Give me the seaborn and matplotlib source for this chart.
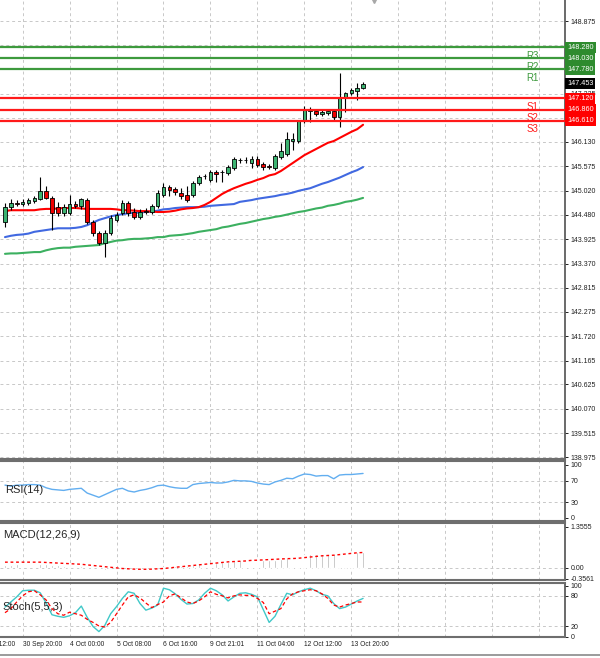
import numpy as np
import pandas as pd
import matplotlib
matplotlib.use("Agg")
import matplotlib.pyplot as plt
import matplotlib.transforms as mtransforms
from matplotlib.lines import Line2D
import seaborn as sns

sns.set_style("white")
plt.rcParams["font.family"] = ["Liberation Sans", "DejaVu Sans"]

# 4H candles
open_ = [144.31, 144.65, 144.74, 144.72, 144.74, 144.79, 144.83, 145.02, 144.86, 144.65,
         144.52, 144.52, 144.72, 144.68, 144.81, 144.31, 144.06, 143.84, 144.06, 144.36,
         144.52, 144.74, 144.54, 144.43, 144.56, 144.54, 144.68, 144.93, 145.11, 145.06,
         144.97, 144.93, 144.93, 145.20, 145.36, 145.27, 145.45, 145.45, 145.43, 145.54,
         145.72, 145.72, 145.65, 145.74, 145.63, 145.58, 145.54, 145.79, 145.86, 146.15,
         146.15, 146.61, 146.83, 146.83, 146.76, 146.79, 146.83, 146.70, 147.15, 147.24,
         147.29, 147.35]
close = [144.65, 144.74, 144.73, 144.77, 144.81, 144.86, 145.02, 144.86, 144.52, 144.52,
         144.65, 144.72, 144.68, 144.83, 144.31, 144.06, 143.84, 144.06, 144.40, 144.47,
         144.74, 144.52, 144.43, 144.54, 144.55, 144.68, 144.97, 145.11, 145.04, 144.99,
         144.90, 144.81, 145.20, 145.33, 145.35, 145.45, 145.41, 145.44, 145.56, 145.74,
         145.71, 145.71, 145.74, 145.61, 145.56, 145.55, 145.81, 145.92, 146.20, 146.20,
         146.61, 146.86, 146.88, 146.76, 146.81, 146.83, 146.70, 147.13, 147.24, 147.31,
         147.35, 147.45]
high = [144.74, 144.83, 144.81, 144.83, 144.86, 144.90, 145.33, 145.13, 144.90, 144.77,
        144.72, 144.93, 144.79, 144.86, 144.86, 144.36, 144.11, 144.13, 144.47, 144.54,
        144.81, 144.79, 144.63, 144.61, 144.63, 144.72, 145.04, 145.20, 145.15, 145.11,
        145.08, 145.13, 145.24, 145.38, 145.40, 145.49, 145.49, 145.49, 145.61, 145.79,
        145.77, 145.79, 145.81, 145.81, 145.68, 145.63, 145.86, 146.11, 146.36, 146.33,
        146.63, 146.95, 146.92, 146.88, 146.86, 146.86, 146.86, 147.70, 147.26, 147.35,
        147.47, 147.49]
low = [144.20, 144.59, 144.68, 144.68, 144.70, 144.74, 144.81, 144.83, 144.13, 144.45,
       144.45, 144.47, 144.63, 144.61, 144.27, 143.99, 143.79, 143.52, 144.02, 144.31,
       144.47, 144.45, 144.38, 144.38, 144.49, 144.49, 144.63, 144.88, 144.90, 144.93,
       144.84, 144.77, 144.88, 145.15, 145.29, 145.22, 145.22, 145.22, 145.38, 145.49,
       145.65, 145.65, 145.54, 145.56, 145.49, 145.52, 145.49, 145.74, 145.81, 145.95,
       146.11, 146.56, 146.58, 146.72, 146.72, 146.74, 146.63, 146.47, 146.81, 147.20,
       147.08, 147.33]

ma_fast = [144.56, 144.58, 144.58, 144.58, 144.58, 144.58, 144.60, 144.61, 144.61, 144.62,
           144.63, 144.63, 144.63, 144.62, 144.61, 144.61, 144.61, 144.61, 144.61, 144.60,
           144.58, 144.58, 144.57, 144.56, 144.56, 144.55, 144.54, 144.54, 144.55, 144.57,
           144.60, 144.62, 144.63, 144.65, 144.70, 144.77, 144.86, 144.95, 145.02, 145.08,
           145.13, 145.18, 145.22, 145.27, 145.31, 145.37, 145.40, 145.47, 145.56, 145.65,
           145.74, 145.83, 145.90, 145.97, 146.04, 146.11, 146.15, 146.22, 146.29, 146.36,
           146.42, 146.52]
ma_mid = [143.97, 144.00, 144.02, 144.03, 144.05, 144.09, 144.11, 144.13, 144.15, 144.17,
          144.17, 144.17, 144.18, 144.20, 144.24, 144.30, 144.36, 144.40, 144.44, 144.47,
          144.49, 144.51, 144.52, 144.53, 144.54, 144.55, 144.57, 144.60, 144.61, 144.63,
          144.64, 144.65, 144.65, 144.65, 144.66, 144.68, 144.69, 144.70, 144.71, 144.72,
          144.77, 144.79, 144.81, 144.84, 144.86, 144.88, 144.90, 144.93, 144.95, 144.98,
          145.02, 145.05, 145.08, 145.13, 145.18, 145.22, 145.27, 145.32, 145.38, 145.44,
          145.49, 145.56]
ma_slow = [143.59, 143.60, 143.60, 143.61, 143.62, 143.63, 143.63, 143.67, 143.70, 143.72,
           143.73, 143.73, 143.75, 143.76, 143.77, 143.78, 143.79, 143.83, 143.86, 143.89,
           143.90, 143.92, 143.93, 143.93, 143.94, 143.95, 143.97, 143.97, 144.00, 144.01,
           144.02, 144.04, 144.06, 144.09, 144.11, 144.13, 144.15, 144.19, 144.21, 144.24,
           144.27, 144.29, 144.32, 144.35, 144.38, 144.40, 144.43, 144.45, 144.48, 144.51,
           144.54, 144.56, 144.59, 144.62, 144.64, 144.68, 144.70, 144.73, 144.77, 144.79,
           144.82, 144.86]

rsi = [62, 60, 62, 62, 63, 63, 62, 57, 54, 53,
       52, 54, 55, 56, 47, 43, 39, 44, 49, 54,
       56, 51, 49, 52, 54, 57, 61, 62, 59, 57,
       56, 56, 63, 65, 66, 67, 66, 66, 68, 71,
       70, 70, 69, 66, 64, 63, 68, 71, 75, 74,
       79, 83, 82, 79, 80, 80, 74, 81, 82, 82,
       83, 84]

macd_hist = [0.11, 0.11, 0.12, 0.12, 0.12, 0.13, 0.13, 0.12, 0.10, 0.08,
             0.07, 0.07, 0.06, 0.06, 0.03, -0.01, -0.05, -0.06, -0.05, -0.04,
             -0.04, -0.05, -0.05, -0.05, -0.04, -0.03, 0.00, 0.03, 0.05, 0.06,
             0.06, 0.06, 0.09, 0.12, 0.14, 0.16, 0.17, 0.18, 0.20, 0.23,
             0.25, 0.26, 0.27, 0.26, 0.25, 0.25, 0.27, 0.30, 0.33, 0.36,
             0.40, 0.44, 0.45, 0.46, 0.46, 0.46, 0.45, 0.49, 0.51, 0.52,
             0.53, 0.54]
macd_signal = [0.19, 0.19, 0.19, 0.19, 0.19, 0.19, 0.19, 0.18, 0.17, 0.16,
               0.15, 0.14, 0.13, 0.12, 0.10, 0.08, 0.06, 0.04, 0.02, 0.00,
               -0.02, -0.03, -0.04, -0.045, -0.045, -0.04, -0.03, -0.02, 0.00, 0.02,
               0.04, 0.06, 0.08, 0.10, 0.12, 0.14, 0.16, 0.18, 0.20, 0.21,
               0.22, 0.23, 0.25, 0.255, 0.265, 0.275, 0.285, 0.295, 0.305, 0.31,
               0.32, 0.34, 0.36, 0.38, 0.40, 0.41, 0.42, 0.44, 0.46, 0.48,
               0.50, 0.51]

stoch_main = [58, 68, 78, 90, 91, 91, 86, 66, 43, 40,
              38, 41, 47, 60, 38, 20, 10, 22, 45, 59,
              75, 88, 85, 65, 52, 56, 62, 95, 92, 84,
              73, 64, 65, 72, 85, 95, 90, 82, 70, 78,
              85, 86, 83, 78, 53, 28, 40, 63, 85, 82,
              88, 92, 95, 90, 83, 80, 65, 55, 58, 64,
              70, 75]
stoch_signal = [47, 55, 68, 80, 88, 90, 82, 72, 55, 45,
                42, 48, 45, 42, 34, 28, 21, 19, 28, 45,
                62, 78, 82, 76, 66, 57, 63, 68, 80, 84,
                76, 68, 65, 70, 78, 88, 83, 80, 76, 80,
                82, 81, 81, 75, 67, 45, 50, 55, 74, 84,
                88, 90, 92, 90, 84, 75, 62, 58, 62, 65,
                68, 68]

level_names = ["R3", "R2", "R1", "S1", "S2", "S3"]
level_values = [148.280, 148.030, 147.780, 147.120, 146.860, 146.610]
last_price = 147.453

# grid levels of the price scale; the ones hidden behind the level boxes carry no text
price_ticks = [148.875, 148.325, 147.780, 147.225, 146.680, 146.130,
               145.575, 145.020, 144.480, 143.925, 143.370, 142.815,
               142.275, 141.720, 141.165, 140.625, 140.070, 139.515, 138.975]
price_labels = ["148.875", "", "", "147.225", "", "146.130",
                "145.575", "145.020", "144.480", "143.925", "143.370", "142.815",
                "142.275", "141.720", "141.165", "140.625", "140.070", "139.515", "138.975"]
time_labels = ["29 Sep 12:00", "30 Sep 20:00", "4 Oct 00:00", "5 Oct 08:00", "6 Oct 16:00",
               "9 Oct 21:01", "11 Oct 04:00", "12 Oct 12:00", "13 Oct 20:00"]
time_label_bars = [-5, 3, 11, 19, 27, 35, 43, 51, 59]

GREEN_LVL = "#3d9a3d"
RED_LVL = "#ff1a1a"
BULL = "#3cb371"
BEAR = "#f00000"
GRID = "#c8c8c8"

df = pd.DataFrame({"bar": np.arange(len(close)), "open": open_, "high": high,
                   "low": low, "close": close, "ma_fast": ma_fast, "ma_mid": ma_mid,
                   "ma_slow": ma_slow, "rsi": rsi, "hist": macd_hist,
                   "signal": macd_signal, "k": stoch_main, "d": stoch_signal})

fig = plt.figure(figsize=(6, 6.58), dpi=100)
W = 565 / 600
ax = fig.add_axes([0, 199 / 658, W, 459 / 658])
ax_rsi = fig.add_axes([0, 137 / 658, W, 60 / 658], sharex=ax)
ax_macd = fig.add_axes([0, 78 / 658, W, 57 / 658], sharex=ax)
ax_st = fig.add_axes([0, 21 / 658, W, 54 / 658], sharex=ax)
panels = [ax, ax_rsi, ax_macd, ax_st]

ax.set_xlim(-0.85, 95.4)
grid_bars = np.arange(-5, 96, 8)

for a in panels:
    for g in grid_bars:
        a.axvline(g, color=GRID, lw=0.7, ls=(0, (3, 3)), zorder=0)
    a.spines["left"].set_visible(False)
    a.spines["right"].set_color("#505050")
    a.spines["right"].set_linewidth(1.2)
    for s in ("top", "bottom"):
        a.spines[s].set_color("#6e6e6e")
        a.spines[s].set_linewidth(1.5)
    a.yaxis.tick_right()
    a.tick_params(axis="y", length=2.5, width=0.7, pad=1.5, labelsize=5,
                  colors="#202020", direction="out")
    a.tick_params(axis="x", bottom=False, labelbottom=False)
ax.spines["top"].set_visible(False)

# main price panel
ax.set_ylim(138.933, 149.352)
ax.set_yticks(price_ticks)
ax.set_yticklabels(price_labels)
for p in price_ticks:
    ax.axhline(p, color=GRID, lw=0.7, ls=(0, (3, 3)), zorder=0)

sns.lineplot(data=df, x="bar", y="ma_slow", ax=ax, color="#3cb060", lw=1.5, legend=False, zorder=2)
sns.lineplot(data=df, x="bar", y="ma_mid", ax=ax, color="#4169e1", lw=1.5, legend=False, zorder=2)
sns.lineplot(data=df, x="bar", y="ma_fast", ax=ax, color="#ff0000", lw=1.5, legend=False, zorder=2)

up = df["close"] >= df["open"]
ax.vlines(df["bar"], df["low"], df["high"], color="black", lw=0.8, zorder=2.2)
ax.bar(df["bar"], df["close"] - df["open"], bottom=df["open"], width=0.62,
       color=np.where(up, BULL, BEAR), edgecolor="black", linewidth=0.6, zorder=3)

ytr = mtransforms.blended_transform_factory(ax.transAxes, ax.transData)
for name, val in zip(level_names, level_values):
    col = GREEN_LVL if name.startswith("R") else RED_LVL
    box = "#2e8b2e" if name.startswith("R") else "#ff0000"
    ax.axhline(val, color=col, lw=1.6, zorder=4)
    ax.annotate(name, (89.8, val), xytext=(0, -2.5), textcoords="offset points",
                ha="center", va="top", fontsize=7, color=col, zorder=5)
    ax.text(1.004, val, f"{val:.3f}", transform=ytr, ha="left", va="center",
            fontsize=5.2, color="white", clip_on=False, zorder=6,
            bbox=dict(boxstyle="square,pad=0.25", fc=box, ec="none"))
ax.text(1.004, last_price, f"{last_price:.3f}", transform=ytr, ha="left", va="center",
        fontsize=5.2, color="white", clip_on=False, zorder=6,
        bbox=dict(boxstyle="square,pad=0.25", fc="black", ec="none"))
ax.plot([62.9], [1.0], marker="v", ms=4, color="#a8a8a8",
        transform=mtransforms.blended_transform_factory(ax.transData, ax.transAxes),
        clip_on=False, zorder=6)

# RSI
ax_rsi.set_ylim(-5.7, 107.5)
ax_rsi.set_yticks([100, 70, 30, 0])
ax_rsi.set_yticklabels(["100", "70", "30", "0"])
for lv in (70, 30):
    ax_rsi.axhline(lv, color=GRID, lw=0.7, ls=(0, (3, 3)), zorder=0)
sns.lineplot(data=df, x="bar", y="rsi", ax=ax_rsi, color="#62aef0", lw=1.0, legend=False)
ax_rsi.text(0.009, 0.52, "RSI(14)", transform=ax_rsi.transAxes, fontsize=8, va="center")

# MACD
ax_macd.set_ylim(-0.40, 1.485)
ax_macd.set_yticks([1.3555, 0.0, -0.3561])
ax_macd.set_yticklabels(["1.3555", "0.00", "-0.3561"])
ax_macd.axhline(0, color=GRID, lw=0.7, ls=(0, (3, 3)), zorder=0)
ax_macd.bar(df["bar"], df["hist"], width=0.28, color="#acacac", zorder=1)
sns.lineplot(data=df, x="bar", y="signal", ax=ax_macd, color="#ff0000", lw=1.0,
             ls=(0, (2, 2)), legend=False, zorder=2)
ax_macd.text(0.005, 0.79, "MACD(12,26,9)", transform=ax_macd.transAxes, fontsize=8, va="center")

# Stochastic
ax_st.set_ylim(-0.6, 105.2)
ax_st.set_yticks([100, 80, 20, 0])
ax_st.set_yticklabels(["100", "80", "20", "0"])
for lv in (80, 20):
    ax_st.axhline(lv, color=GRID, lw=0.7, ls=(0, (3, 3)), zorder=0)
sns.lineplot(data=df, x="bar", y="k", ax=ax_st, color="#40c8c8", lw=1.0, legend=False, zorder=2)
sns.lineplot(data=df, x="bar", y="d", ax=ax_st, color="#ff0000", lw=0.9,
             ls=(0, (3, 2)), legend=False, zorder=2.1)
ax_st.text(0.005, 0.556, "Stoch(5,5,3)", transform=ax_st.transAxes, fontsize=8, va="center")

for a in panels:
    a.set_xlabel("")
    a.set_ylabel("")

xtr = mtransforms.blended_transform_factory(ax_st.transData, fig.transFigure)
for b, lab in zip(time_label_bars, time_labels):
    ax_st.text(b, 13 / 658, lab, transform=xtr, ha="left", va="center",
               fontsize=4.8, color="#202020", clip_on=False)

fig.add_artist(Line2D([0, 1], [3.5 / 658, 3.5 / 658], transform=fig.transFigure,
                      color="#8a8a8a", lw=1.2))

fig.savefig("out.png", dpi=100)
